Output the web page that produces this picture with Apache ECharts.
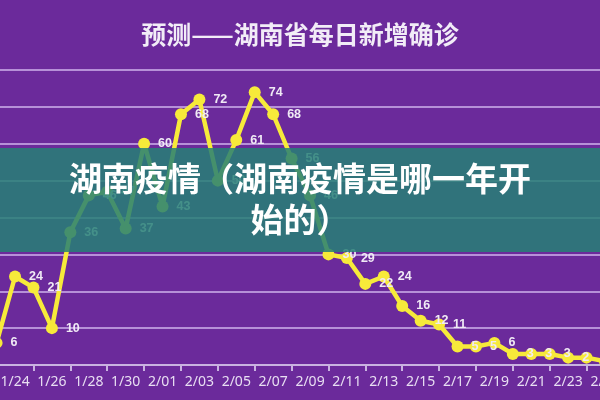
<!DOCTYPE html>
<html><head><meta charset="utf-8">
<script src="https://cdn.jsdelivr.net/npm/echarts@6/dist/echarts.min.js"></script>
<style>html,body{margin:0;padding:0;background:#6b2a9b;overflow:hidden}#c{position:absolute;left:-6px;top:0;width:612px;height:400px}</style>
</head><body><div id="c"></div>
<script>
const dates = ['1/23','1/24','1/25','1/26','1/27','1/28','1/29','1/30','1/31','2/01','2/02','2/03','2/04','2/05','2/06','2/07','2/08','2/09','2/10','2/11','2/12','2/13','2/14','2/15','2/16','2/17','2/18','2/19','2/20','2/21','2/22','2/23','2/24','2/25'];
const values = [6,24,21,10,36,46,47,37,60,43,68,72,50,61,74,68,56,46,30,29,22,24,16,12,11,5,5,6,3,3,3,2,2,1];
const chart = echarts.init(document.getElementById('c'));
chart.setOption({
  backgroundColor:'#6b2a9b',
  animation:false,
  title:{text:'预测——湖南省每日新增确诊',left:'center',top:17,textStyle:{color:'#f2ecf7',fontSize:25,fontWeight:'bold',fontFamily:'Noto Sans CJK SC'}},
  grid:{left:2.6,right:1,top:70,bottom:35,outerBoundsMode:'none',containLabel:false},
  xAxis:{type:'category',data:dates,boundaryGap:false,
    axisLine:{lineStyle:{color:'#c9b3e0',width:2}},
    axisTick:{interval:(i)=>i%2===0,lineStyle:{color:'#c9b3e0',width:2},length:6},
    axisLabel:{interval:(i)=>i%2===1,color:'#e8def2',fontSize:14,margin:10,fontFamily:'Noto Sans'}},
  yAxis:{type:'value',min:0,max:80,interval:10,axisLabel:{show:false},axisLine:{show:false},axisTick:{show:false},
    splitLine:{lineStyle:{color:'#b690d8',width:2}}},
  series:[{type:'line',data:values,symbol:'circle',symbolSize:12,showAllSymbol:true,
    labelLayout:{hideOverlap:false},
    lineStyle:{color:'#f7ea3a',width:4.5},itemStyle:{color:'#f7ea3a'},
    label:{show:true,position:'right',color:'#f0eaf5',fontWeight:'bold',fontSize:12.5,distance:8}}],
  graphic:[
    {type:'rect',shape:{x:0,y:148,width:612,height:104},style:{fill:'rgba(38,128,118,0.85)'},z:100},
    {type:'text',left:'center',top:162,style:{text:'湖南疫情（湖南疫情是哪一年开',fill:'#fff',font:'bold 33px "Noto Sans CJK SC"'},z:101},
    {type:'text',left:'center',top:203,style:{text:'始的）',fill:'#fff',font:'bold 33px "Noto Sans CJK SC"'},z:101}
  ]
});
</script></body></html>
